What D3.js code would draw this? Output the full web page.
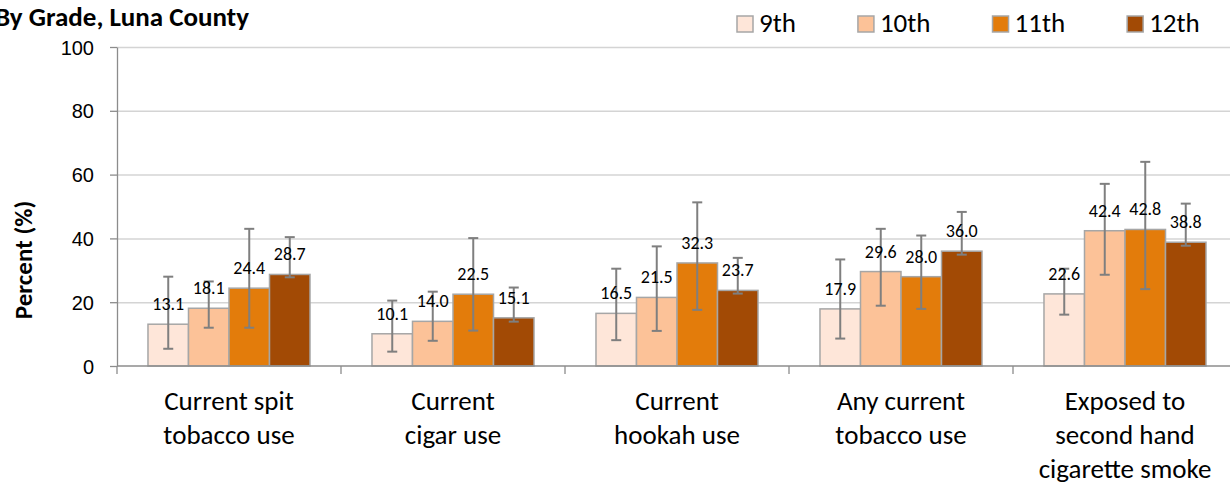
<!DOCTYPE html>
<html lang="en">
  <head>
    <meta charset="UTF-8" />
    <title>Tobacco use by grade, Luna County</title>
    <script src="https://d3js.org/d3.v7.min.js"></script>
    <style>
      body {
        margin: 0;
        background-color: #ffffff;
        font-family: Carlito, Calibri, Lato, sans-serif;
      }
      svg {
        display: block;
      }
      .grid line {
        stroke: #d4d4d4;
        stroke-width: 1.5px;
      }
      .axis path,
      .axis line {
        stroke: #8c8c8c;
        stroke-width: 1.3px;
      }
      .axis text {
        fill: #000;
        font-size: 20px;
      }
      .bar {
        stroke: #a6a6a6;
        stroke-width: 1.5px;
      }
      .err {
        stroke: #7f7f7f;
        stroke-width: 2px;
      }
      .value-label {
        font-size: 18px;
        text-anchor: middle;
      }
      .cat-label {
        font-size: 27px;
        text-anchor: middle;
      }
      .legend-text {
        font-size: 27px;
      }
    </style>
  </head>
  <body>
    <svg id="chart"></svg>

    <script>
      // categories and their wrapped label lines
      const categories = [
        "Current spit tobacco use",
        "Current cigar use",
        "Current hookah use",
        "Any current tobacco use",
        "Exposed to second hand cigarette smoke",
      ];
      const categoryLines = [
        ["Current spit", "tobacco use"],
        ["Current", "cigar use"],
        ["Current", "hookah use"],
        ["Any current", "tobacco use"],
        ["Exposed to", "second hand", "cigarette smoke"],
      ];
      const grades = ["9th", "10th", "11th", "12th"];

      // percent values per grade
      const values9 = [13.1, 10.1, 16.5, 17.9, 22.6];
      const values10 = [18.1, 14.0, 21.5, 29.6, 42.4];
      const values11 = [24.4, 22.5, 32.3, 28.0, 42.8];
      const values12 = [28.7, 15.1, 23.7, 36.0, 38.8];

      // confidence intervals
      const lower9 = [5.4, 4.5, 8.1, 8.6, 16.1];
      const upper9 = [28.0, 20.5, 30.5, 33.4, 30.5];
      const lower10 = [12.0, 7.9, 11.0, 18.9, 28.6];
      const upper10 = [26.5, 23.3, 37.5, 43.0, 57.1];
      const lower11 = [12.0, 11.1, 17.6, 17.9, 24.1];
      const upper11 = [43.0, 40.1, 51.3, 40.9, 64.0];
      const lower12 = [27.8, 13.9, 22.7, 34.9, 37.7];
      const upper12 = [40.4, 24.6, 33.9, 48.3, 50.9];

      const yTicks = [0, 20, 40, 60, 80, 100];
      const colors = ["#fee6d9", "#fcc298", "#e37c0b", "#a24a05"];

      const seriesValues = [values9, values10, values11, values12];
      const seriesLower = [lower9, lower10, lower11, lower12];
      const seriesUpper = [upper9, upper10, upper11, upper12];

      const width = 1230;
      const height = 485;
      const plot = { left: 117, right: 1237, top: 47, bottom: 366 };

      const svg = d3
        .select("#chart")
        .attr("width", width)
        .attr("height", height);

      const x0 = d3
        .scaleBand()
        .domain(categories)
        .range([plot.left, plot.right])
        .paddingInner(0)
        .paddingOuter(0);

      const x1 = d3
        .scaleBand()
        .domain(grades)
        .range([0, x0.bandwidth()])
        .paddingInner(0)
        .paddingOuter(0.765);

      const y = d3.scaleLinear().domain([0, 100]).range([plot.bottom, plot.top]);

      const color = d3.scaleOrdinal().domain(grades).range(colors);

      // gridlines
      svg
        .append("g")
        .attr("class", "grid")
        .attr("transform", `translate(${plot.left},0)`)
        .call(
          d3
            .axisLeft(y)
            .tickValues(yTicks.filter((t) => t > 0))
            .tickSize(-(width - plot.left))
            .tickFormat("")
        )
        .call((g) => g.select(".domain").remove());

      // y axis
      svg
        .append("g")
        .attr("class", "axis")
        .attr("transform", `translate(${plot.left},0)`)
        .call(
          d3
            .axisLeft(y)
            .tickValues(yTicks)
            .tickSize(7)
            .tickPadding(16)
            .tickSizeOuter(0)
        )
        .call((g) => g.selectAll("text").attr("dy", "0.35em"));

      // y axis title
      svg
        .append("text")
        .attr("transform", `translate(32,260) rotate(-90)`)
        .attr("text-anchor", "middle")
        .style("font-size", "25px")
        .style("font-weight", "bold")
        .text("Percent (%)");

      // data table for bars
      const table = [];
      categories.forEach((c, i) => {
        grades.forEach((g, j) => {
          table.push({
            category: c,
            grade: g,
            value: seriesValues[j][i],
            lo: seriesLower[j][i],
            hi: seriesUpper[j][i],
          });
        });
      });

      const groups = svg
        .append("g")
        .selectAll("g")
        .data(table)
        .enter()
        .append("g")
        .attr("transform", (d) => `translate(${x0(d.category) + x1(d.grade)},0)`);

      groups
        .append("rect")
        .attr("class", "bar")
        .attr("x", 0)
        .attr("width", x1.bandwidth())
        .attr("y", (d) => y(d.value))
        .attr("height", (d) => y(0) - y(d.value))
        .attr("fill", (d) => color(d.grade));

      // x axis line and category boundary ticks
      const xAxis = svg.append("g").attr("class", "axis");
      xAxis
        .append("line")
        .attr("x1", plot.left)
        .attr("x2", width)
        .attr("y1", y(0))
        .attr("y2", y(0));
      const bounds = categories.map((c) => x0(c)).concat([plot.right]);
      xAxis
        .selectAll(".xtick")
        .data(bounds)
        .enter()
        .append("line")
        .attr("x1", (d) => d)
        .attr("x2", (d) => d)
        .attr("y1", y(0))
        .attr("y2", y(0) + 8);

      // error bars
      const capW = 10;
      const cx = x1.bandwidth() / 2;
      groups
        .append("line")
        .attr("class", "err")
        .attr("x1", cx)
        .attr("x2", cx)
        .attr("y1", (d) => y(d.lo))
        .attr("y2", (d) => y(d.hi));
      groups
        .append("line")
        .attr("class", "err")
        .attr("x1", cx - capW / 2)
        .attr("x2", cx + capW / 2)
        .attr("y1", (d) => y(d.hi))
        .attr("y2", (d) => y(d.hi));
      groups
        .append("line")
        .attr("class", "err")
        .attr("x1", cx - capW / 2)
        .attr("x2", cx + capW / 2)
        .attr("y1", (d) => y(d.lo))
        .attr("y2", (d) => y(d.lo));

      // value labels
      groups
        .append("text")
        .attr("class", "value-label")
        .attr("x", cx)
        .attr("y", (d) => y(d.value) - 14)
        .text((d) => d.value.toFixed(1));

      // category labels
      svg
        .append("g")
        .selectAll("text")
        .data(categories)
        .enter()
        .append("text")
        .attr("class", "cat-label")
        .attr("x", (d) => x0(d) + x0.bandwidth() / 2)
        .attr("y", 410)
        .selectAll("tspan")
        .data((d, i) => categoryLines[i])
        .enter()
        .append("tspan")
        .attr("x", function () {
          return this.parentNode.getAttribute("x");
        })
        .attr("dy", (d, i) => (i === 0 ? 0 : 34))
        .text((d) => d);

      // title (slightly cut at the left edge as in the original)
      svg
        .append("text")
        .attr("x", -5)
        .attr("y", 26)
        .style("font-size", "27px")
        .style("font-weight", "bold")
        .text("By Grade, Luna County");

      // legend
      const legend = svg.append("g").attr("transform", "translate(737,16)");
      let lx = 0;
      grades.forEach((g) => {
        const item = legend.append("g").attr("transform", `translate(${lx},0)`);
        item
          .append("rect")
          .attr("width", 16)
          .attr("height", 16)
          .attr("fill", color(g))
          .attr("stroke", "#a6a6a6")
          .attr("stroke-width", 1.5);
        const t = item
          .append("text")
          .attr("class", "legend-text")
          .attr("x", 22)
          .attr("y", 16)
          .text(g);
        lx += 22 + t.node().getComputedTextLength() + 62;
      });
    </script>
  </body>
</html>
